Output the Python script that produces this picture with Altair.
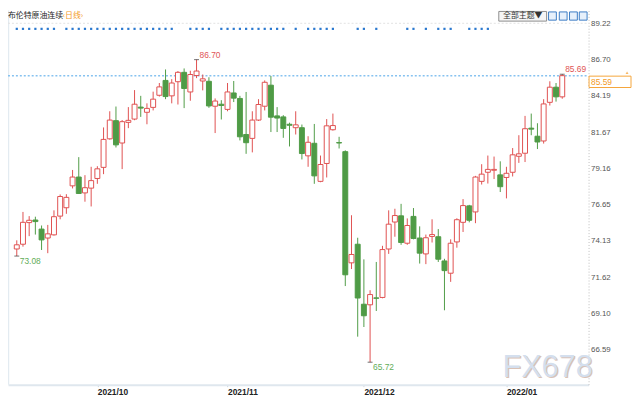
import altair as alt
import pandas as pd

# ---------------- data ----------------
TITLE = "布伦特原油连续"
PERIOD = "‹日线›"
BUTTON = "全部主题▼"
WATERMARK = "FX678"

OPEN = [73.57, 73.90, 75.40, 75.58, 74.95, 74.33, 74.55, 75.85, 76.43, 77.95,
        78.56, 77.46, 77.79, 78.46, 79.23, 81.21, 82.47, 80.92, 82.35, 82.58,
        83.41, 83.05, 83.39, 84.23, 85.26, 84.19, 85.17, 85.82, 84.46, 85.60,
        85.22, 85.20, 83.47, 83.61, 83.25, 84.39, 84.01, 81.51, 81.24, 82.51,
        83.47, 84.93, 82.80, 82.73, 82.22, 81.98, 81.98, 80.03, 80.90, 78.26,
        79.50, 81.84, 80.95, 80.32, 72.61, 73.90, 69.74, 69.70, 70.18, 70.21,
        73.57, 75.44, 75.87, 73.97, 75.83, 74.33, 73.23, 74.44, 74.42, 72.74,
        71.89, 74.06, 75.42, 76.56, 76.14, 78.26, 78.89, 79.03, 78.71, 78.53,
        78.89, 80.00, 80.21, 81.95, 81.39, 81.06, 83.74, 84.79, 84.12]
HIGH = [74.17, 76.14, 75.85, 75.81, 75.20, 75.24, 76.25, 77.35, 77.37, 79.05,
        79.94, 78.69, 79.27, 79.31, 82.00, 83.12, 83.45, 82.51, 83.41, 84.59,
        84.19, 83.67, 84.48, 85.08, 86.02, 85.35, 85.91, 86.09, 85.93, 86.70,
        85.67, 85.48, 84.01, 83.89, 85.08, 85.22, 84.19, 84.46, 83.12, 83.96,
        85.26, 85.57, 83.41, 82.85, 82.33, 83.12, 82.20, 81.39, 82.24, 80.05,
        82.58, 82.96, 81.35, 80.41, 75.91, 74.35, 72.85, 70.71, 72.67, 73.79,
        76.25, 76.36, 76.70, 75.69, 76.41, 75.14, 74.57, 75.63, 74.95, 72.89,
        74.24, 75.70, 77.03, 76.63, 78.64, 79.45, 80.05, 79.98, 79.65, 79.27,
        80.57, 81.46, 82.80, 82.96, 82.29, 83.96, 85.20, 85.08, 85.69]
LOW = [73.08, 73.73, 74.46, 74.57, 73.50, 73.28, 74.50, 75.63, 76.01, 77.77,
       77.40, 76.85, 76.52, 78.09, 78.76, 81.15, 80.61, 79.11, 81.95, 82.50,
       82.73, 82.22, 83.18, 84.14, 83.96, 83.67, 83.59, 83.34, 83.85, 85.42,
       84.57, 83.36, 81.61, 82.55, 83.12, 83.76, 81.10, 80.17, 80.27, 82.45,
       83.18, 81.68, 81.68, 81.28, 80.68, 81.51, 79.78, 79.27, 78.09, 78.20,
       78.53, 81.78, 80.54, 71.00, 72.18, 67.49, 68.16, 65.72, 69.27, 70.15,
       73.23, 74.42, 73.86, 73.86, 74.24, 72.56, 72.52, 74.02, 72.67, 69.32,
       71.29, 73.66, 74.75, 75.42, 75.36, 78.04, 78.11, 78.42, 77.52, 77.08,
       78.60, 79.54, 79.60, 81.46, 80.50, 80.88, 83.52, 83.79, 83.99]
CLOSE = [73.86, 75.42, 75.56, 75.47, 74.20, 74.62, 75.81, 77.21, 77.15, 78.56,
         77.42, 77.82, 78.31, 79.13, 81.17, 82.51, 80.79, 82.40, 82.49, 83.61,
         83.34, 83.32, 83.96, 84.81, 84.14, 85.08, 85.82, 84.70, 85.67, 85.91,
         85.37, 83.49, 83.83, 83.52, 84.46, 84.03, 81.35, 80.94, 82.51, 83.59,
         85.13, 82.71, 82.65, 81.93, 82.15, 82.18, 80.19, 80.97, 78.64, 79.43,
         82.11, 82.13, 80.92, 71.78, 73.19, 70.17, 68.94, 70.41, 70.15, 73.53,
         75.29, 75.89, 74.02, 75.20, 74.30, 73.28, 74.35, 74.57, 72.86, 72.07,
         73.97, 75.60, 76.58, 75.56, 78.56, 78.76, 79.09, 79.09, 77.89, 78.82,
         80.10, 80.17, 81.91, 81.88, 80.99, 83.63, 84.79, 84.12, 85.59]

MONTH_POS = [13, 34, 56, 79]
MONTH_LABELS = ["2021/10", "2021/11", "2021/12", "2022/01"]
Y_TICKS = [89.22, 86.70, 84.19, 81.67, 79.16, 76.65, 74.13, 71.62, 69.10, 66.59]
EVENT_IDX = [0, 1, 2, 3, 4, 5, 6,
             8, 9, 10, 11, 12, 13, 14, 15, 16, 17, 18, 19, 20, 21, 22, 23, 24, 25,
             28, 29, 30, 31,
             33, 34, 35, 36, 37, 38, 39, 40, 41, 42, 43,
             45, 47, 48, 49, 50, 51,
             55, 56, 58, 63, 64, 66, 68, 69, 70, 73, 74, 75, 76]
HIGH_MARK_IDX = [29, 88]
LOW_MARK_IDX = [0, 57]

# ---------------- layout ----------------
FONT = "Liberation Sans, Noto Sans CJK SC, sans-serif"
W, H = 588, 379
PAD_R, PAD_B = 44, 13
X_DOMAIN = [-0.62, 91.45]
Y_DOMAIN = [64.16, 90.11]
RED = "#e05050"
GREEN = "#4f9b46"


def px(x):
    return x * W / 595.0


def py(y):
    return y * H / 387.0


def ypix(v):
    return H * (Y_DOMAIN[1] - v) / (Y_DOMAIN[1] - Y_DOMAIN[0])


N = len(OPEN)
df = pd.DataFrame({"i": list(range(N)), "o": OPEN, "h": HIGH, "l": LOW, "c": CLOSE})
df["dir"] = ["up" if c >= o else "down" for o, c in zip(OPEN, CLOSE)]

xs = alt.Scale(domain=X_DOMAIN, nice=False, zero=False)
ys = alt.Scale(domain=Y_DOMAIN, nice=False, zero=False)

label_expr = ""
for p, lab in zip(MONTH_POS, MONTH_LABELS):
    label_expr += f"datum.value == {p} ? '{lab}' : "
label_expr += "''"

x_axis = alt.Axis(values=MONTH_POS, labelExpr=label_expr, labelAlign="left",
                  labelFontWeight="bold", labelFontSize=8.5, labelColor="#222",
                  labelFont=FONT, domainColor="#dfe7ee", domainWidth=2,
                  tickColor="#c9d2da", tickSize=2, labelPadding=1, title=None,
                  grid=False, labelOverlap=False, labelFlush=False)
y_axis = alt.Axis(orient="right", values=Y_TICKS, format=".2f", labelFontSize=8,
                  labelColor="#555", labelFont=FONT, ticks=False,
                  domainColor="#bdbdbd", domainDash=[1, 2], labelPadding=2,
                  grid=False, title=None)


def X(field):
    return alt.X(field, scale=xs, axis=x_axis)


def Y(field):
    return alt.Y(field, scale=ys, axis=y_axis)


dir_color = alt.Scale(domain=["up", "down"], range=[RED, GREEN])
dir_fill = alt.Scale(domain=["up", "down"], range=["#ffffff", GREEN])

base = alt.Chart(df)

wicks = base.mark_rule(strokeWidth=1).encode(
    x=X("i:Q"), y=Y("l:Q"), y2="h:Q",
    color=alt.Color("dir:N", scale=dir_color, legend=None),
)

bodies = base.mark_bar(size=5, strokeWidth=1).encode(
    x=X("i:Q"), y=Y("o:Q"), y2="c:Q",
    fill=alt.Fill("dir:N", scale=dir_fill, legend=None),
    stroke=alt.Stroke("dir:N", scale=dir_color, legend=None),
)

one = pd.DataFrame({"a": [0]})

left_border = alt.Chart(one).mark_rule(color="#e3ebf1", strokeWidth=1.5).encode(
    x=alt.value(0.5), y=alt.value(0), y2=alt.value(H))

top_line = alt.Chart(pd.DataFrame({"v": [Y_TICKS[0]]})).mark_rule(
    color="#e2e2e2", strokeDash=[2, 2], strokeWidth=1).encode(
    y=Y("v:Q"), x=alt.value(0), x2=alt.value(W))

last_close = CLOSE[-1]
price_line = alt.Chart(pd.DataFrame({"v": [last_close]})).mark_rule(
    color="#86c2f0", strokeDash=[2, 2], strokeWidth=1.5).encode(
    y=Y("v:Q"), x=alt.value(0), x2=alt.value(W))

events = alt.Chart(pd.DataFrame({"i": EVENT_IDX})).mark_square(
    size=5, color="#2a78cf", opacity=1).encode(
    x=X("i:Q"), y=alt.value(py(19)))

hi_df = pd.DataFrame({"i": HIGH_MARK_IDX, "v": [HIGH[k] for k in HIGH_MARK_IDX]})
hi_df["t"] = [f"{v:.2f}" for v in hi_df["v"]]
lo_df = pd.DataFrame({"i": LOW_MARK_IDX, "v": [LOW[k] for k in LOW_MARK_IDX]})
lo_df["t"] = [f"{v:.2f}" for v in lo_df["v"]]

hi_ticks = alt.Chart(hi_df).mark_tick(orient="horizontal", size=5, thickness=1,
                                      color="#333").encode(x=X("i:Q"), y=Y("v:Q"))
lo_ticks = alt.Chart(lo_df).mark_tick(orient="horizontal", size=5, thickness=1,
                                      color="#333").encode(x=X("i:Q"), y=Y("v:Q"))

hi_text = alt.Chart(hi_df).mark_text(align="left", baseline="middle", dx=3, dy=-5,
                                     fontSize=8.5, font=FONT, color="#e05555").encode(
    x=X("i:Q"), y=Y("v:Q"), text="t:N")
lo_text = alt.Chart(lo_df).mark_text(align="left", baseline="middle", dx=3, dy=5,
                                     fontSize=8.5, font=FONT, color="#62ad58").encode(
    x=X("i:Q"), y=Y("v:Q"), text="t:N")

title1 = alt.Chart(one).mark_text(align="left", baseline="middle", fontSize=8,
                                  font="Noto Sans CJK SC", color="#222").encode(
    x=alt.value(0), y=alt.value(py(6)), text=alt.value(TITLE))
title2 = alt.Chart(one).mark_text(align="left", baseline="middle", fontSize=8,
                                  font="Noto Sans CJK SC", color="#f39a26").encode(
    x=alt.value(px(56)), y=alt.value(py(6)), text=alt.value(PERIOD))


def box(x1, x2, y1, y2, fill, stroke):
    return alt.Chart(one).mark_rect(fill=fill, stroke=stroke, strokeWidth=1).encode(
        x=alt.value(px(x1)), x2=alt.value(px(x2)), y=alt.value(py(y1)), y2=alt.value(py(y2)))


btn = box(503, 552, 1, 11, "#f5f5f5", "#8c8c8c")
btn_text = alt.Chart(one).mark_text(align="center", baseline="middle", fontSize=8,
                                    font="Noto Sans CJK SC", color="#333").encode(
    x=alt.value(px(527.5)), y=alt.value(py(6)), text=alt.value(BUTTON))
icons = [box(a, a + 8, 1.5, 10, "#e6f0fb", "#3b7cc4") for a in (554, 565, 575.5, 585.5)]

ly = ypix(last_close)
pbox = alt.Chart(one).mark_rect(fill="#ffffff", stroke="#f5a53a", strokeWidth=1).encode(
    x=alt.value(W + 0.5), x2=alt.value(W + 43), y=alt.value(ly + 0.5), y2=alt.value(ly + 12))
ptext = alt.Chart(pd.DataFrame({"t": [f"{last_close:.2f}"]})).mark_text(
    align="left", baseline="middle", fontSize=8.5, font=FONT, color="#f29a26").encode(
    x=alt.value(W + 2.5), y=alt.value(ly + 6.5), text="t:N")
picon = alt.Chart(one).mark_point(shape="triangle-up", filled=True, size=9,
                                  color="#f39a26").encode(
    x=alt.value(W + 39), y=alt.value(ly - 3))

wm_shadow = alt.Chart(one).mark_text(align="center", baseline="alphabetic", fontSize=31,
                                     font="Liberation Sans", color="#d9c2b6").encode(
    x=alt.value(px(553) + 1.2), y=alt.value(py(379) + 1.2), text=alt.value(WATERMARK))
wm = alt.Chart(one).mark_text(align="center", baseline="alphabetic", fontSize=31,
                              font="Liberation Sans", color="#d4dfee").encode(
    x=alt.value(px(553)), y=alt.value(py(379)), text=alt.value(WATERMARK))

chart = alt.layer(
    left_border, top_line, price_line, wicks, bodies, events,
    hi_ticks, lo_ticks, hi_text, lo_text, title1, title2,
    btn, btn_text, *icons, pbox, ptext, picon, wm_shadow, wm,
).properties(
    width=W, height=H, background="white",
    padding={"left": 0, "top": 0, "right": PAD_R, "bottom": PAD_B},
    autosize=alt.AutoSizeParams(type="none"),
).configure_view(stroke=None)

chart.save("out.html", embed_options={"renderer": "svg", "actions": False})
